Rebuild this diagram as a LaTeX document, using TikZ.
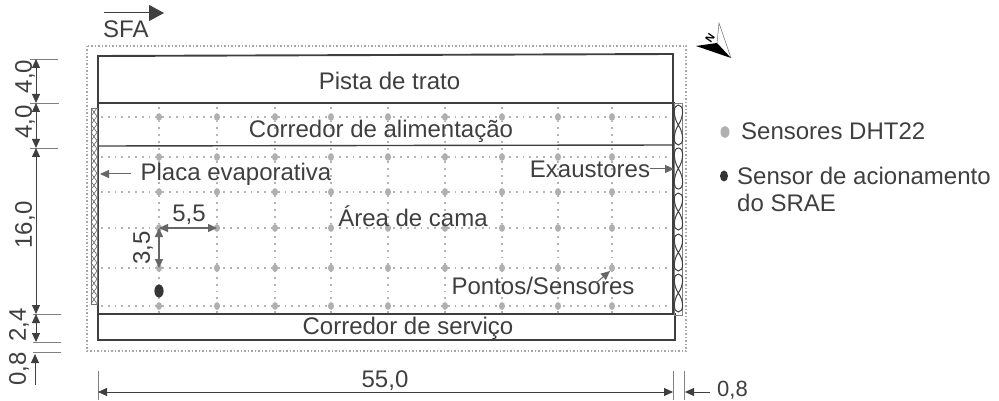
\documentclass[tikz,border=0pt]{standalone}
\usepackage{fontspec}
\setmainfont{Liberation Sans}
\usetikzlibrary{arrows.meta}
\definecolor{ink}{HTML}{3F3F3F}
\definecolor{dotgray}{HTML}{B4B4B4}
\definecolor{sensgray}{HTML}{B0B0B0}
\tikzset{
 x=1pt,y=-1pt,
 lbl/.style={text=ink,font=\fontsize{24}{26}\selectfont,inner sep=0pt},
 wall/.style={draw=ink,line width=1.9pt},
 thinwall/.style={draw=ink,line width=1.4pt},
 grid dots/.style={draw=dotgray,line width=1.8pt,dash pattern=on 1.8pt off 5pt},
 sensor/.style={fill=sensgray,draw=none},
 dim/.style={draw=ink,line width=.8pt,{Triangle[length=9pt,width=8pt]}-{Triangle[length=9pt,width=8pt]}},
 dimend/.style={draw=ink,line width=.8pt,-{Triangle[length=9pt,width=8pt]}},
 tick/.style={draw=gray,line width=.8pt},
 leader/.style={draw=gray!80!black,line width=1pt,-{Triangle[length=9pt,width=8pt]}},
 gaparrow/.style={draw=gray!80!black,line width=1.2pt,{Triangle[length=9pt,width=8pt]}-{Triangle[length=9pt,width=8pt]}},
}
\begin{document}
\begin{tikzpicture}
\useasboundingbox (0,0) rectangle (999,401);
% grid
\foreach \yy in {117,157,192,228,268,306}
  \draw[grid dots] (101,\yy) -- (671,\yy);
\foreach \xx in {159,217,275,331,388,445,502,558,612}
  \draw[grid dots] (\xx,107) -- (\xx,317);
\foreach \yy in {117,157,192,228,268,306}
  \foreach \xx in {159,217,275,331,388,445,502,558,612}
    \fill[sensor] (\xx,\yy) ellipse (3 and 3.9);
% outer dotted boundary
\draw[draw=gray!70,line width=1.1pt,dash pattern=on 1.5pt off 2pt] (87,46) rectangle (686,351);
% barn outline
\draw[wall] (98,314) -- (98,56) -- (673,54) -- (673,103);
\draw[wall] (98,103) -- (675,103);
\draw[thinwall] (98,146) -- (673,145);
\draw[wall] (98,314) -- (675,314) -- (675,340) -- (98,340) -- cycle;
\draw[wall] (673,103) -- (673,314);
% evaporative panel
\draw[draw=gray!90!black,line width=.8pt] (91,108) rectangle (97,304);
\foreach \k in {0,...,23}{
  \draw[draw=ink!80,line width=.6pt] (91,108+8.15*\k) -- (97,116.15+8.15*\k);
  \draw[draw=ink!80,line width=.6pt] (97,108+8.15*\k) -- (91,116.15+8.15*\k);
}
% exhaust fans
\draw[draw=gray,line width=.9pt] (674,103) rectangle (682,315);
\foreach \a/\b in {104/146,147/190,192/231,233/272,273/313}{
  \draw[draw=ink,line width=1pt] (678.3,\a+1) .. controls (684,\a+1) and (684,{\a+0.3*(\b-\a)}) .. (678.3,{(\a+\b)/2})
     .. controls (673,{\a+0.7*(\b-\a)}) and (673,\b-1) .. (678.3,\b-1)
     .. controls (684,\b-1) and (684,{\a+0.7*(\b-\a)}) .. (678.3,{(\a+\b)/2})
     .. controls (673,{\a+0.3*(\b-\a)}) and (673,\a+1) .. (678.3,\a+1);
}
% room labels
\node[lbl] (pista) at (389.5,81) {Pista de trato};
\node[lbl] (corredor) at (381,131) {Corredor de alimentação};
\node[lbl] (placa) at (236,174) {Placa evaporativa};
\node[lbl] (exaust) at (590,169) {Exaustores};
\node[lbl] (area) at (413,216) {Área de cama};
\node[lbl] (pontos) at (543,286) {Pontos/Sensores};
\node[lbl] (servico) at (408,328) {Corredor de serviço};
% leaders
\coordinate (placaend) at (100,174);
\coordinate (exend) at (674,169);
\coordinate (ptend) at (610,271);
\draw[leader] (placa.west) ++(-9,0) -- (placaend);
\draw[leader] (exaust.east) -- (exend);
\draw[leader] (596,283) -- (ptend);
% spacing arrows
\coordinate (s1) at (159,228); \coordinate (s2) at (217,228); \coordinate (s3) at (159,268);
\draw[gaparrow] (s1) -- (s2);
\draw[gaparrow] (s1) -- (s3);
\node[lbl] (d55) at (189,215) {5,5};
\node[lbl,rotate=90] (d35) at (143,248) {3,5};
% trigger sensor
\fill[ink!85!black] (159,291) ellipse (4.6 and 6.5);
% left dims
\foreach \yy/\xa/\xb in {59/30/58,103/30/59,148/30/58,314/33/61,342/33/61,352/33/61}
  \draw[tick] (\xa,\yy) -- (\xb,\yy);
\coordinate (a1) at (36,59); \coordinate (a2) at (36,103); \coordinate (a3) at (36,148);
\coordinate (a4) at (36,314); \coordinate (a5) at (36,342); \coordinate (a6) at (35,354); \coordinate (a7) at (35,385);
\draw[dim] (a1) -- (a2);
\draw[dim] (a2) -- (a3);
\draw[dim] (a3) -- (a4);
\draw[dim] (a4) -- (a5);
\draw[dimend] (a7) -- (a6);
\node[lbl,rotate=90] (h1) at (25,76.5) {4,0};
\node[lbl,rotate=90] (h2) at (25,122) {4,0};
\node[lbl,rotate=90] (h3) at (25,225) {16,0};
\node[lbl,rotate=90] (h4) at (19,325) {2,4};
\node[lbl,rotate=90] (h5) at (19,369) {0,8};
% bottom dims
\foreach \xx in {98,673,684}
  \draw[tick] (\xx,371) -- (\xx,400);
\coordinate (b1) at (98,392); \coordinate (b2) at (673,392); \coordinate (b3) at (685,392); \coordinate (b4) at (710,392);
\draw[dim] (b1) -- (b2);
\draw[dimend] (b4) -- (b3);
\node[lbl] (w55) at (385,381) {55,0};
\node[lbl,anchor=west,font=\fontsize{22}{24}\selectfont] (w08) at (717,390) {0,8};
% SFA
\node[lbl,anchor=west] (sfa) at (103,29) {SFA};
\coordinate (sfaa) at (104,13); \coordinate (sfab) at (164,13);
\draw[draw=ink,line width=1pt,-{Triangle[length=15pt,width=16pt]}] (sfaa) -- (sfab);
% compass
\fill[black] (696,46) -- (717,43) -- (731,58) -- cycle;
\draw[draw=gray,line width=.6pt] (717,43) -- (719,23) -- (731,58);
\node[text=black,font=\fontsize{11}{12}\selectfont\bfseries,inner sep=0pt,rotate=55] (north) at (710,38) {N};
% legend
\fill[sensor] (725,132) ellipse (4.5 and 6);
\node[lbl,anchor=west] (leg1) at (741,131) {Sensores DHT22};
\fill[ink!85!black] (724,176) ellipse (4 and 5.5);
\node[lbl,anchor=west] (leg2) at (737,176) {Sensor de acionamento};
\node[lbl,anchor=west] (leg3) at (737,203) {do SRAE};
\end{tikzpicture}
\end{document}
